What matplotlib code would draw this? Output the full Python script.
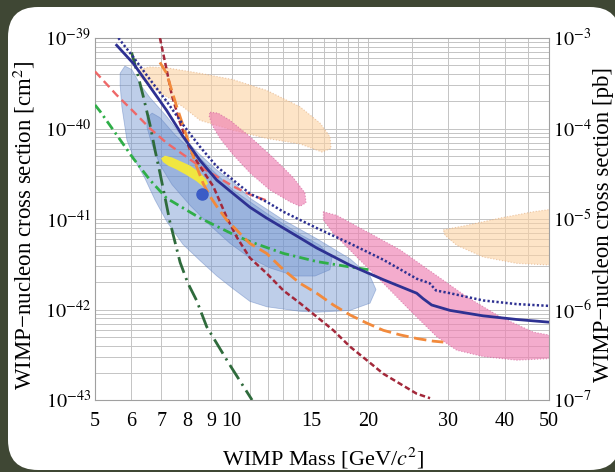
import numpy as np
import matplotlib
matplotlib.use("Agg")
import matplotlib.pyplot as plt
from matplotlib.patches import FancyBboxPatch
from matplotlib.transforms import IdentityTransform

plt.rcParams["font.family"] = ["Liberation Serif", "DejaVu Serif"]
plt.rcParams["mathtext.fontset"] = "stix"

# WIMP mass [GeV] and log10(sigma / cm^2)
solid_m = [5.58, 6.07, 6.61, 7.19, 7.82, 8.51, 9.27, 10.08, 10.97, 11.94, 13.0,
           14.15, 15.39, 18.22, 21.57, 25.56, 26.4, 27.57, 30.27, 35.8, 42.4, 50.0]
solid_s = [-39.08, -39.28, -39.54, -39.80, -40.09, -40.35, -40.57, -40.72, -40.87,
           -40.99, -41.10, -41.21, -41.32, -41.51, -41.67, -41.82, -41.88, -41.95,
           -42.01, -42.07, -42.11, -42.14]

dotted_m = [5.63, 6.07, 6.61, 7.19, 7.82, 8.51, 9.27, 10.08, 10.97, 11.94, 13.0,
            15.39, 18.22, 21.57, 25.56, 27.3, 28.2, 30.27, 35.8, 42.4, 50.0]
dotted_s = [-39.0, -39.21, -39.46, -39.70, -39.96, -40.20, -40.42, -40.57, -40.72,
            -40.81, -40.92, -41.10, -41.27, -41.45, -41.66, -41.71, -41.79, -41.82,
            -41.90, -41.94, -41.96]

salmon_m = [5.0, 5.58, 6.07, 6.61, 7.19, 7.83, 8.52, 9.27, 10.08, 10.97, 12.02]
salmon_s = [-39.37, -39.63, -39.81, -40.00, -40.16, -40.29, -40.42, -40.53, -40.64,
            -40.73, -40.80]

green_m = [5.0, 5.13, 5.58, 6.07, 6.61, 7.19, 8.52, 10.08, 10.97, 13.0, 15.39, 18.22, 20.0]
green_s = [-39.74, -39.81, -40.07, -40.33, -40.57, -40.77, -40.99, -41.17, -41.25,
           -41.38, -41.47, -41.53, -41.56]

dkgreen_m = [6.02, 6.23, 6.39, 6.61, 6.78, 6.95, 7.13, 7.31, 7.70, 8.01, 8.37, 8.81,
             9.87, 11.09]
dkgreen_s = [-39.16, -39.43, -39.65, -39.96, -40.24, -40.49, -40.76, -41.03, -41.48,
             -41.71, -41.90, -42.19, -42.60, -43.0]

dkred_m = [6.95, 7.19, 7.38, 7.70, 8.10, 8.52, 9.11, 9.75, 10.26, 10.97, 11.94, 13.0,
           14.14, 15.39, 16.75, 18.22, 19.84, 21.58, 23.48, 25.55, 27.35]
dkred_s = [-39.0, -39.35, -39.63, -39.94, -40.24, -40.42, -40.64, -40.98, -41.20,
           -41.43, -41.60, -41.79, -41.93, -42.08, -42.23, -42.41, -42.56, -42.71,
           -42.82, -42.93, -42.98]

orange_m = [6.95, 7.19, 7.38, 7.57, 7.83, 8.10, 8.37, 8.66, 8.96, 9.27, 9.75, 10.43,
            10.97, 11.94, 13.0, 14.14, 15.39, 16.75, 18.22, 19.84, 21.58, 23.48, 25.55,
            27.82, 29.25]
orange_s = [-39.27, -39.39, -39.58, -39.76, -39.98, -40.20, -40.42, -40.61, -40.75,
            -40.86, -41.01, -41.16, -41.27, -41.38, -41.56, -41.71, -41.82, -41.95,
            -42.06, -42.15, -42.23, -42.28, -42.32, -42.35, -42.36]

# allowed regions (closed contours)
outer_m = [5.68, 5.82, 6.03, 6.28, 6.61, 7.20, 7.81, 8.52, 9.28, 10.07, 10.97, 12.98,
           15.42, 18.22, 20.17, 20.79, 20.17, 18.22, 15.42, 14.14, 11.96, 10.97, 10.07,
           9.28, 8.52, 7.81, 7.20, 6.78, 6.44, 6.12, 5.88, 5.73, 5.68]
outer_s = [-39.39, -39.31, -39.35, -39.51, -39.66, -39.87, -40.10, -40.29, -40.46,
           -40.59, -40.77, -41.01, -41.22, -41.44, -41.63, -41.78, -41.93, -42.01,
           -42.03, -42.02, -41.97, -41.91, -41.77, -41.63, -41.46, -41.28, -41.03,
           -40.79, -40.55, -40.35, -40.13, -39.76, -39.52]

inner_m = [6.51, 6.51, 6.68, 6.95, 7.50, 8.52, 10.07, 11.96, 14.14, 15.65, 16.63,
           16.46, 15.26, 13.79, 12.14, 10.97, 9.92, 8.96, 8.10, 7.39, 6.95, 6.68]
inner_s = [-39.99, -39.88, -39.83, -39.88, -40.07, -40.33, -40.68, -40.94, -41.17,
           -41.29, -41.43, -41.56, -41.63, -41.63, -41.54, -41.43, -41.27, -41.07,
           -40.85, -40.62, -40.40, -40.18]

yellow_m = [6.99, 7.13, 7.39, 7.70, 8.10, 8.52, 8.78, 8.87, 8.69, 8.35, 7.93, 7.54,
            7.24, 7.06]
yellow_s = [-40.33, -40.30, -40.32, -40.36, -40.41, -40.49, -40.56, -40.61, -40.65,
            -40.58, -40.51, -40.45, -40.41, -40.37]

dot_m = [8.62]
dot_s = [-40.72]

peach1_m = [6.22, 6.61, 7.20, 8.52, 10.07, 11.96, 14.14, 15.65, 16.46, 16.55, 15.81,
            14.14, 11.96, 10.07, 8.52, 7.81, 7.20, 6.61, 6.28]
peach1_s = [-39.35, -39.32, -39.33, -39.39, -39.46, -39.58, -39.76, -39.94, -40.09,
            -40.22, -40.26, -40.17, -40.11, -40.02, -39.91, -39.76, -39.65, -39.53,
            -39.43]

peach2_m = [29.25, 32.95, 39.0, 46.17, 51.0, 51.0, 42.45, 35.83, 31.31, 29.51]
peach2_s = [-41.12, -41.07, -40.99, -40.92, -40.89, -41.51, -41.49, -41.42, -41.29,
            -41.18]

pink1_m = [8.96, 9.33, 9.92, 10.97, 12.33, 13.65, 14.50, 14.58, 14.14, 13.44, 12.14,
           10.97, 10.07, 9.43, 9.05, 8.92]
pink1_s = [-39.82, -39.83, -39.91, -40.09, -40.32, -40.54, -40.71, -40.82, -40.86,
           -40.81, -40.68, -40.49, -40.29, -40.11, -39.96, -39.86]

pink2_m = [15.92, 17.04, 19.84, 23.48, 27.82, 32.95, 39.0, 46.17, 51.0, 51.0, 42.45,
           35.83, 31.31, 28.29, 24.70, 21.58, 18.86, 16.75, 15.92]
pink2_s = [-40.92, -40.96, -41.14, -41.34, -41.60, -41.86, -42.08, -42.25, -42.29,
           -42.54, -42.56, -42.52, -42.45, -42.30, -42.01, -41.71, -41.42, -41.16,
           -41.01]

x_ticks = [5, 6, 7, 8, 9, 10, 15, 20, 30, 40, 50]
x_minor = [11, 12, 13, 14, 16, 17, 18, 19, 25, 35, 45]
y_ticks = [1e-43, 1e-42, 1e-41, 1e-40, 1e-39]
y_labels = ["$10^{-43}$", "$10^{-42}$", "$10^{-41}$", "$10^{-40}$", "$10^{-39}$"]
pb_ticks = [1e-7, 1e-6, 1e-5, 1e-4, 1e-3]
pb_labels = ["$10^{-7}$", "$10^{-6}$", "$10^{-5}$", "$10^{-4}$", "$10^{-3}$"]


def sig(v):
    return 10.0 ** np.array(v)


fig = plt.figure(figsize=(6.15, 4.72), dpi=100)
fig.patch.set_facecolor("#3f4734")
panel = FancyBboxPatch((8, 2), 612, 463, boxstyle="round,pad=0,rounding_size=30",
                       transform=IdentityTransform(), facecolor="white",
                       edgecolor="none", zorder=-5)
fig.add_artist(panel)

ax = fig.add_axes([95 / 615, 1 - 400 / 472, 454 / 615, 362 / 472])
ax.set_xscale("log")
ax.set_yscale("log")
ax.set_xlim(5, 50)
ax.set_ylim(1e-43, 1e-39)

# regions
ax.fill(peach1_m, sig(peach1_s), facecolor="#fcd2a2", alpha=0.6,
        edgecolor="#e0a878", lw=0.8, ls=":", zorder=1)
ax.fill(peach2_m, sig(peach2_s), facecolor="#fcd2a2", alpha=0.6,
        edgecolor="#e0a878", lw=0.8, ls=":", zorder=1)
ax.fill(pink1_m, sig(pink1_s), facecolor="#ef80b2", alpha=0.65,
        edgecolor="#d0609a", lw=0.8, ls=":", zorder=1)
ax.fill(pink2_m, sig(pink2_s), facecolor="#ef80b2", alpha=0.65,
        edgecolor="#d0609a", lw=0.8, ls=":", zorder=1)
ax.fill(outer_m, sig(outer_s), facecolor="#6f93d0", alpha=0.45,
        edgecolor="#5f80c0", lw=0.6, zorder=2)
ax.fill(inner_m, sig(inner_s), facecolor="#6f93d0", alpha=0.45,
        edgecolor="#5f80c0", lw=0.6, zorder=2)
ax.fill(yellow_m, sig(yellow_s), facecolor="#f0e640", edgecolor="none", zorder=3)

# limit curves
ax.plot(green_m, sig(green_s), color="#2fae48", lw=2.0, dashes=(3.5, 1.5, 0.8, 1.5), zorder=4)
ax.plot(dkgreen_m, sig(dkgreen_s), color="#2f6b3c", lw=2.0, dashes=(6, 2, 0.8, 2), zorder=4)
ax.plot(salmon_m, sig(salmon_s), color="#ee6868", lw=1.7, dashes=(3.5, 2), zorder=4)
ax.plot(dkred_m, sig(dkred_s), color="#a3283a", lw=1.8, dashes=(2.2, 1.2), zorder=4)
ax.plot(orange_m, sig(orange_s), color="#f28a3c", lw=2.0, dashes=(4.5, 2), zorder=4)
ax.plot(dotted_m, sig(dotted_s), color="#2e3192", lw=1.8, dashes=(0.9, 0.9), zorder=5)
ax.plot(solid_m, sig(solid_s), color="#2e3192", lw=2.0, zorder=5)
ax.plot(dot_m, sig(dot_s), "o", color="#3b5cc6", ms=8, zorder=6)

# axes cosmetics
ax.set_xticks(x_ticks)
ax.set_xticklabels([str(t) for t in x_ticks])
ax.set_xticks(x_minor, minor=True)
ax.set_yticks(y_ticks)
ax.set_yticklabels(y_labels)
ax.yaxis.set_minor_locator(matplotlib.ticker.LogLocator(base=10, subs=np.arange(2, 10)))
ax.yaxis.set_minor_formatter(matplotlib.ticker.NullFormatter())
ax.xaxis.set_minor_formatter(matplotlib.ticker.NullFormatter())
ax.grid(True, which="both", color="#c4c4c4", lw=0.7)
ax.set_axisbelow(True)
ax.tick_params(which="both", length=0, labelsize=14.5)
ax.tick_params(axis="x", pad=9)
ax.tick_params(axis="y", pad=3)
for s in ax.spines.values():
    s.set_color("#a0a0a0")
    s.set_linewidth(0.8)

ax2 = ax.twinx()
ax2.set_yscale("log")
ax2.set_ylim(1e-7, 1e-3)
ax2.set_yticks(pb_ticks)
ax2.set_yticklabels(pb_labels)
ax2.yaxis.set_minor_formatter(matplotlib.ticker.NullFormatter())
ax2.tick_params(which="both", length=0, labelsize=14.5, pad=3)
for s in ax2.spines.values():
    s.set_visible(False)

fig.text(24 / 615, 1 - 225 / 472, "WIMP\u2212nucleon cross section [cm$^2$]",
         rotation=90, ha="center", va="center", fontsize=16.5)
fig.text(603 / 615, 1 - 225 / 472, "WIMP\u2212nucleon cross section [pb]",
         rotation=90, ha="center", va="center", fontsize=16.5)
fig.text(323 / 615, 1 - 458 / 472, "WIMP Mass [GeV/$c^2$]",
         ha="center", va="center", fontsize=16)

fig.savefig("out.png", dpi=100, facecolor=fig.get_facecolor())
